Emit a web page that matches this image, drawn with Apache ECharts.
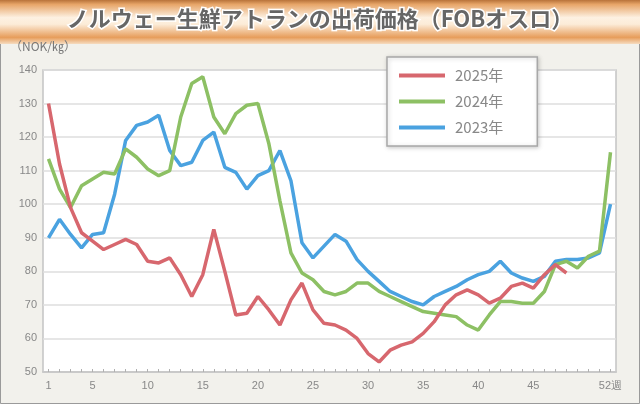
<!DOCTYPE html>
<html><head><meta charset="utf-8">
<script src="https://cdn.jsdelivr.net/npm/echarts@6/dist/echarts.min.js"></script>
<style>html,body{margin:0;padding:0;background:#f2f1ec}#c{width:640px;height:404px}</style>
</head><body><div id="c"></div>
<script>
const weeks = Array.from({length:52},(_,i)=>String(i+1));
const s2025 = [130,112,99,91.5,89,86.5,88,89.5,88,83,82.5,84,79,72.5,79,92.5,80,67,67.5,72.5,68.5,64,71.5,76.5,68.5,64.5,64,62.5,60,55.5,53,56.5,58,59,61.5,65,70,73,74.5,73,70.5,72,75.5,76.5,75,79,82,79.5];
const s2024 = [113.5,104.5,99,105.5,107.5,109.5,109,116.5,114,110.5,108.5,110,126,136,138,126,121,127,129.5,130,118,101,85.5,79.5,77.5,74,73,74,76.5,76.5,74,72.5,71,69.5,68,67.5,67,66.5,64,62.5,67,71,71,70.5,70.5,74,82,83,81,84.5,86,115.5];
const s2023 = [90,95.5,91,87,91,91.5,103,119,123.5,124.5,126.5,116,111.5,112.5,119,121.5,111,109.5,104.5,108.5,110,116,107,88.5,84,87.5,91,89,83.5,80,77,74,72.5,71,70,72.5,74,75.5,77.5,79,80,83,79.5,78,77,78.5,83,83.5,83.5,84,85.5,100];
const names = ['2025年','2024年','2023年'];
const colors = ['#d7676e','#8dc064','#4aa2e0'];
const shownWeeks = [1,5,10,15,20,25,30,35,40,45,52];
const titleText = 'ノルウェー生鮮アトランの出荷価格（FOBオスロ）';
const unitText = '（NOK/㎏）';

const chart = echarts.init(document.getElementById('c'));
const mk = (name, data, color, z) => ({
  name, type:'line', data, symbol:'none', z,
  lineStyle:{color, width:3.5}, itemStyle:{color}
});
chart.setOption({
  animation:false,
  backgroundColor:'#f2f1ec',
  graphic:[
    {type:'rect', z:-10, shape:{x:0.5,y:0.5,width:639,height:403}, style:{fill:'#f2f1ec', stroke:'#9a9a9a', lineWidth:1}},
    {type:'rect', z:-9, shape:{x:0,y:0,width:640,height:44},
     style:{fill:new echarts.graphic.LinearGradient(0,0,0,1,[
       {offset:0,color:'#b8733a'},{offset:0.1,color:'#e7a568'},{offset:0.4,color:'#fdf1e2'},
       {offset:0.55,color:'#fcecd8'},{offset:0.85,color:'#e79d5b'},{offset:1,color:'#f6dcc0'}])}},
    {type:'text', left:'center', top:6, z:10,
     style:{text:titleText, font:'bold 22px "Noto Sans CJK JP", sans-serif', fill:'#666', stroke:'#fff', lineWidth:3}},
    {type:'text', left:10, top:40,
     style:{text:unitText, font:'12px "Noto Sans CJK JP", sans-serif', fill:'#777'}},
    {type:'rect', z:-5, shape:{x:43,y:70,width:573,height:302}, style:{fill:'#fff', stroke:'#c4c4c4', lineWidth:1.5}}
  ],
  legend:{
    orient:'vertical', left:387, top:57, data:names,
    backgroundColor:'#fff', borderColor:'#a8a8a8', borderWidth:1.5,
    shadowColor:'rgba(0,0,0,0.2)', shadowBlur:4, shadowOffsetX:1, shadowOffsetY:1,
    padding:[11,34,11,12], itemGap:11, itemWidth:46, itemHeight:4, icon:'rect',
    textStyle:{fontSize:15, color:'#888', fontFamily:'"Noto Sans CJK JP", sans-serif', padding:[0,0,0,5]}
  },
  grid:{left:43, right:24, top:70, bottom:32},
  xAxis:{
    type:'category', data:weeks, boundaryGap:true,
    axisLine:{show:true, lineStyle:{color:'#c4c4c4', width:1.5}},
    axisTick:{show:true, inside:true, length:3, interval:0, alignWithLabel:true, lineStyle:{color:'#b0b0b0'}},
    axisLabel:{
      interval:(i)=>shownWeeks.includes(i+1),
      formatter:(v)=> v==='52' ? '52週' : v,
      fontSize:11, color:'#888', margin:8
    },
    splitLine:{show:false}
  },
  yAxis:{
    type:'value', min:50, max:140, interval:10,
    axisLine:{show:false}, axisTick:{show:false},
    axisLabel:{fontSize:11, color:'#888', margin:6},
    splitLine:{lineStyle:{color:'#dedede', width:1.5}}
  },
  series:[
    mk(names[2], s2023, colors[2], 3),
    mk(names[1], s2024, colors[1], 4),
    mk(names[0], s2025, colors[0], 5)
  ]
});
</script></body></html>
